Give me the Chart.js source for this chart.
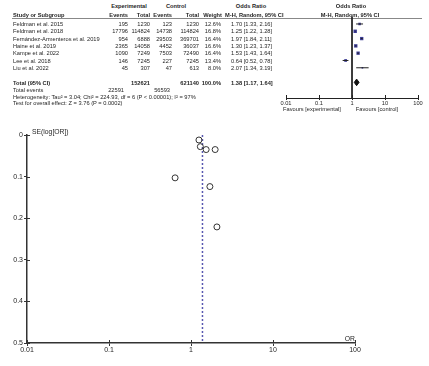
<!DOCTYPE html>
<html lang="en">
<head>
<meta charset="UTF-8">
<title>Forest plot and funnel plot</title>
<script src="https://cdn.jsdelivr.net/npm/chart.js"></script>
<style>
  body { margin:0; width:429px; height:366px; background:#fff; position:relative; overflow:hidden;
         font-family:"Liberation Sans", Arial, sans-serif; color:#1f1f1f; }
  .t { position:absolute; font-size:5.7px; line-height:6px; white-space:nowrap; }
  .b { font-weight:bold; }
  .rule { position:absolute; left:12px; width:410px; top:18px; height:0; border-top:0.6px solid #888; }
  #forestBox { position:absolute; left:270px; top:0; }
  #funnelBox { position:absolute; left:0; top:115px; }
</style>
</head>
<body>
<div class="rule"></div>
<div id="forestBox"><canvas id="forest" width="159" height="120"></canvas></div>
<div id="funnelBox"><canvas id="funnel" width="429" height="251"></canvas></div>

<script>
  // --- data ---
  const studies = ["Feldman et al. 2015", "Feldman et al. 2018", "Fernández-Armenteros et al. 2019",
    "Haine et al. 2019", "Kampe et al. 2022", "Lee et al. 2018", "Liu et al. 2022"];
  const expEvents = [195, 17796, 954, 2365, 1090, 146, 45];
  const expTotal = [1230, 114824, 6888, 14058, 7249, 7245, 307];
  const ctlEvents = [123, 14738, 29503, 4452, 7503, 227, 47];
  const ctlTotal = [1230, 114824, 369701, 36037, 72490, 7245, 613];
  const weights = [12.6, 16.8, 16.4, 16.6, 16.4, 13.4, 8.0];
  const oddsRatio = [1.70, 1.25, 1.97, 1.30, 1.53, 0.64, 2.07];
  const ciLow = [1.33, 1.22, 1.84, 1.23, 1.43, 0.52, 1.34];
  const ciHigh = [2.16, 1.28, 2.11, 1.37, 1.64, 0.78, 3.19];
  const seLogOR = [0.124, 0.012, 0.035, 0.028, 0.035, 0.103, 0.221];

  const totalOR = [1.38, 1.17, 1.64];      // estimate, low, high
  const totalCounts = [152621, 621140];   // exp total, control total
  const totalEvents = [22591, 56593];
  const orTicks = [0.01, 0.1, 1, 10, 100];
  const seTicks = [0, 0.1, 0.2, 0.3, 0.4, 0.5];

  // --- table text (html) ---
  function put(txt, x, y, align, bold) {
    const d = document.createElement('div');
    d.className = 't' + (bold ? ' b' : '');
    d.textContent = txt;
    d.style.top = (y - 3) + 'px';
    if (align === 'r') d.style.right = (429 - x) + 'px';
    else if (align === 'c') { d.style.left = x + 'px'; d.style.transform = 'translateX(-50%)'; }
    else d.style.left = x + 'px';
    document.body.appendChild(d);
    return d;
  }
  const fmt = v => v.toFixed(2);

  put('Experimental', 129, 6, 'c', true);
  put('Control', 176, 6, 'c', true);
  put('Odds Ratio', 251, 6, 'c', true);
  put('Odds Ratio', 351, 6, 'c', true);
  put('Study or Subgroup', 13, 14.5, 'l', true);
  put('Events', 128, 14.5, 'r', true);
  put('Total', 150, 14.5, 'r', true);
  put('Events', 172, 14.5, 'r', true);
  put('Total', 199, 14.5, 'r', true);
  put('Weight', 222, 14.5, 'r', true);
  put('M-H, Random, 95% CI', 225, 14.5, 'l', true);
  put('M-H, Random, 95% CI', 350, 14.5, 'c', true);

  studies.forEach((s, i) => {
    const y = 24 + 7.3 * i;
    put(s, 13, y, 'l');
    put(String(expEvents[i]), 128, y, 'r');
    put(String(expTotal[i]), 150, y, 'r');
    put(String(ctlEvents[i]), 172, y, 'r');
    put(String(ctlTotal[i]), 199, y, 'r');
    put(weights[i].toFixed(1) + '%', 221, y, 'r');
    put(fmt(oddsRatio[i]) + ' [' + fmt(ciLow[i]) + ', ' + fmt(ciHigh[i]) + ']', 231, y, 'l');
  });

  put('Total (95% CI)', 13, 83, 'l', true);
  put(String(totalCounts[0]), 150, 83, 'r', true);
  put(String(totalCounts[1]), 199, 83, 'r', true);
  put('100.0%', 221, 83, 'r', true);
  put(fmt(totalOR[0]) + ' [' + fmt(totalOR[1]) + ', ' + fmt(totalOR[2]) + ']', 231, 83, 'l', true);
  put('Total events', 13, 90, 'l');
  put(String(totalEvents[0]), 124, 90, 'r');
  put(String(totalEvents[1]), 170, 90, 'r');
  put('Heterogeneity: Tau² = 3.04; Chi² = 224.93, df = 6 (P < 0.00001); I² = 97%', 13, 96.5, 'l');
  put('Test for overall effect: Z = 3.76 (P = 0.0002)', 13, 103, 'l');
  put('Favours [experimental]', 312, 108.5, 'c');
  put('Favours [control]', 377, 108.5, 'c');

  [put('SE(log[OR])', 32, 130.5, 'l'), put('OR', 355, 338, 'r')].forEach(el => {
    el.style.fontSize = '6.8px'; el.style.lineHeight = '7px';
  });

  Chart.defaults.font.family = '"Liberation Sans", Arial, sans-serif';
  Chart.defaults.color = '#1f1f1f';

  // short tick marks on the inner side of the axes, so they cross the axis line
  const crossTicks = {
    id: 'crossTicks',
    afterDraw(chart, args, opts) {
      const ctx = chart.ctx, a = chart.chartArea;
      ctx.save();
      ctx.strokeStyle = opts.color || '#333';
      ctx.lineWidth = 1;
      const sx = chart.scales.x, sy = chart.scales.y;
      ctx.beginPath();
      sx.ticks.forEach(t => {
        const px = Math.round(sx.getPixelForValue(t.value)) + 0.5;
        ctx.moveTo(px, a.bottom); ctx.lineTo(px, a.bottom - 3);
      });
      if (sy.options.display) {
        sy.ticks.forEach(t => {
          const py = Math.round(sy.getPixelForValue(t.value)) + 0.5;
          ctx.moveTo(a.left, py); ctx.lineTo(a.left + 3, py);
        });
      }
      ctx.stroke();
      ctx.restore();
    }
  };

  // --- forest plot ---
  const forestSets = [];
  forestSets.push({ data: [{ x: 1, y: -1.0 }, { x: 1, y: 10.14 }], borderColor: '#222', borderWidth: 1, pointRadius: 0 });
  studies.forEach((s, i) => {
    forestSets.push({ data: [{ x: ciLow[i], y: i }, { x: ciHigh[i], y: i }], borderColor: '#222', borderWidth: 1, pointRadius: 0 });
  });
  forestSets.push({
    data: oddsRatio.map((v, i) => ({ x: v, y: i })), showLine: false,
    pointStyle: 'rect', pointRadius: weights.map(w => w / 7),
    backgroundColor: '#3b3b96', borderColor: '#3b3b96', borderWidth: 0
  });
  forestSets.push({
    data: [{ x: totalOR[1], y: 8 }, { x: totalOR[0], y: 7.55 }, { x: totalOR[2], y: 8 }, { x: totalOR[0], y: 8.45 }, { x: totalOR[1], y: 8 }],
    borderColor: '#111', backgroundColor: '#111', borderWidth: 1, pointRadius: 0, fill: 'shape'
  });

  new Chart(document.getElementById('forest'), {
    type: 'line',
    data: { datasets: forestSets },
    plugins: [crossTicks],
    options: {
      responsive: false, animation: false, devicePixelRatio: 1,
      layout: { padding: { left: 16, right: 11, top: 15, bottom: 0 } },
      plugins: { legend: { display: false }, tooltip: { enabled: false }, crossTicks: { color: '#222' } },
      elements: { line: { tension: 0 } },
      scales: {
        x: {
          type: 'logarithmic', min: 0.01, max: 100,
          afterBuildTicks: sc => { sc.ticks = orTicks.map(v => ({ value: v })); },
          afterFit: sc => { sc.height = 22; },
          border: { color: '#222', width: 1 },
          grid: { drawOnChartArea: false, tickLength: 2, color: '#222' },
          ticks: { font: { size: 5.7 }, padding: 0, maxRotation: 0, callback: v => String(v) }
        },
        y: { type: 'linear', reverse: true, min: -1.23, max: 10.14, display: false }
      }
    }
  });

  // --- funnel plot ---
  new Chart(document.getElementById('funnel'), {
    type: 'scatter',
    data: {
      datasets: [
        {
          data: oddsRatio.map((v, i) => ({ x: v, y: seLogOR[i] })),
          pointStyle: 'circle', pointRadius: 3, borderWidth: 1,
          borderColor: '#333', backgroundColor: 'rgba(0,0,0,0)', clip: false
        },
        {
          data: [{ x: totalOR[0], y: 0 }, { x: totalOR[0], y: 0.5 }], showLine: true,
          borderColor: '#5858b0', borderWidth: 1.5, borderDash: [2, 2], pointRadius: 0, clip: false
        }
      ]
    },
    plugins: [crossTicks],
    options: {
      responsive: false, animation: false, devicePixelRatio: 1,
      layout: { padding: { left: 0, right: 74, top: 20, bottom: 0 } },
      plugins: { legend: { display: false }, tooltip: { enabled: false }, crossTicks: { color: '#333' } },
      scales: {
        x: {
          type: 'logarithmic', min: 0.01, max: 100,
          afterBuildTicks: sc => { sc.ticks = orTicks.map(v => ({ value: v })); },
          afterFit: sc => { sc.height = 23; },
          border: { color: '#333', width: 1.5 },
          grid: { drawOnChartArea: false, tickLength: 3, color: '#333' },
          ticks: { font: { size: 7 }, padding: 0, maxRotation: 0, callback: v => String(v) }
        },
        y: {
          type: 'linear', reverse: true, min: 0, max: 0.5,
          afterBuildTicks: sc => { sc.ticks = seTicks.map(v => ({ value: v })); },
          afterFit: sc => { sc.width = 27; },
          border: { color: '#333', width: 1.5 },
          grid: { drawOnChartArea: false, tickLength: 3, color: '#333' },
          ticks: { font: { size: 7 }, padding: 1, callback: v => v === 0 ? '0' : v.toFixed(1) }
        }
      }
    }
  });
</script>
</body>
</html>
